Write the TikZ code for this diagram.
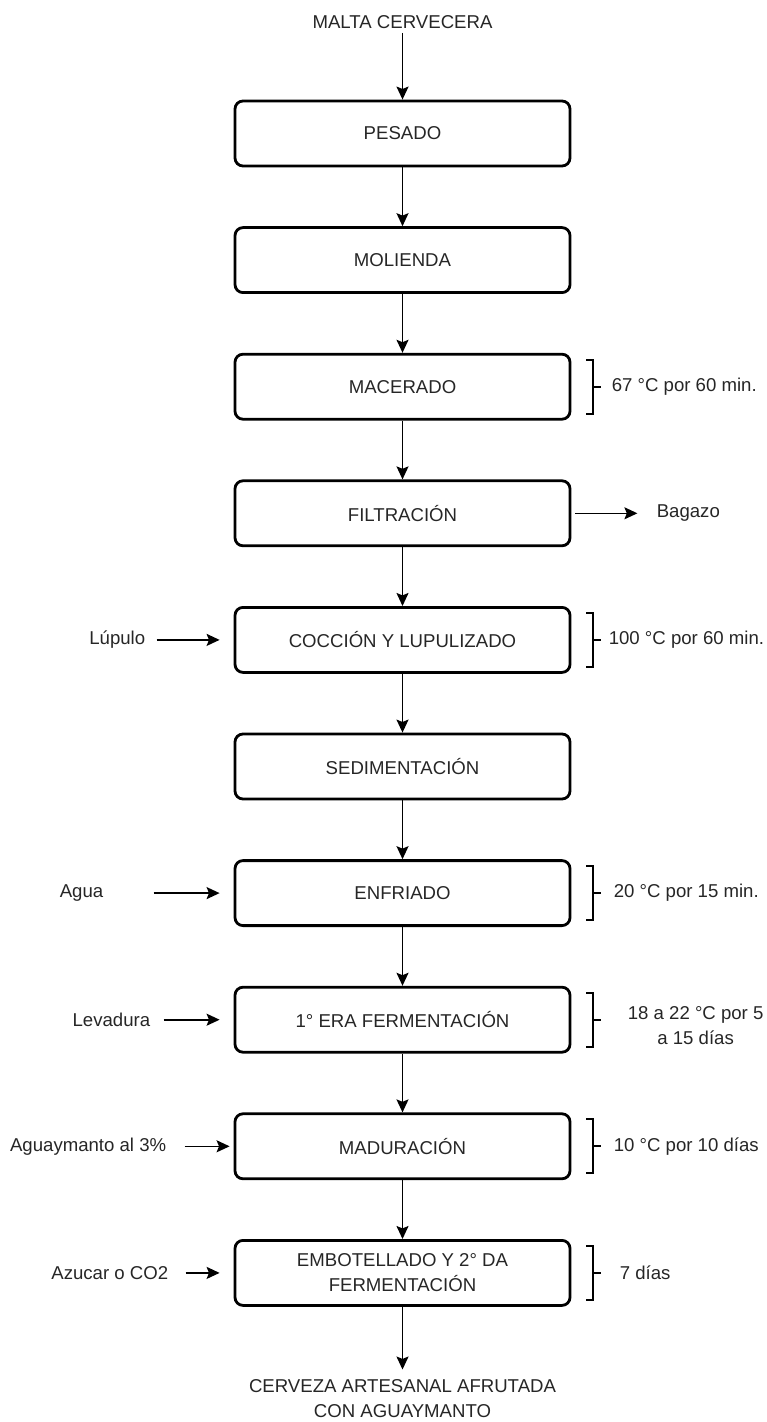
\documentclass[tikz,border=0pt]{standalone}
\usepackage{fontspec}
\setmainfont{Liberation Sans}
\usepackage{xcolor}
\usetikzlibrary{arrows.meta, positioning}
\newcommand{\letra}{\fontsize{9.3}{12.5}\selectfont}
\newcommand{\corchete}[1]{
\draw[line width = 1pt] ([shift={(7.5pt,13.5pt)}]#1.east) -- ++(3.5pt,0) -- ++(0,-27pt) -- ++(-3.5pt,0);
\draw[line width = 1pt] ([xshift = 11pt]#1.east) -- ++(4pt,0);
}

\begin{document}
\begin{tikzpicture}[x = 0.5pt, y = -0.5pt,
    etapa/.style = {draw, rounded corners = 4pt, line width = 1.4pt, minimum width = 167.5pt, minimum height = 32.5pt, align = center, text = black!85, font = \letra},
    texto/.style = {inner sep = 0pt, align = center, text = black!85, font = \letra},
    flecha/.style = {-{Stealth[length = 6.5pt, width = 6pt, inset = 1.2pt]}, line width = 0.8pt}]
    \useasboundingbox (0,0) rectangle (766,1422);
    % Etapas
    \node[etapa] (pesado) at (402.5,133.5){PESADO};
    \node[etapa] (molienda) at (402.5,260.1){MOLIENDA};
    \node[etapa] (macerado) at (402.5,386.7){MACERADO};
    \node[etapa] (filtracion) at (402.5,513.3){FILTRACIÓN};
    \node[etapa] (coccion) at (402.5,639.9){COCCIÓN Y LUPULIZADO};
    \node[etapa] (sedimentacion) at (402.5,766.5){SEDIMENTACIÓN};
    \node[etapa] (enfriado) at (402.5,893.1){ENFRIADO};
    \node[etapa] (fermentacion) at (402.5,1019.7){1° ERA FERMENTACIÓN};
    \node[etapa] (maduracion) at (402.5,1146.3){MADURACIÓN};
    \node[etapa] (embotellado) at (402.5,1272.9){EMBOTELLADO Y 2° DA\\FERMENTACIÓN};
    % Entrada e salida
    \node[texto] (malta) at (402.5,22){MALTA CERVECERA};
    \node[texto] (cerveza) at (402.5,1399){CERVEZA ARTESANAL AFRUTADA\\CON AGUAYMANTO};
    \draw[flecha, shorten <= 2pt] (malta) -- (pesado);
    \draw[flecha] (pesado) -- (molienda);
    \draw[flecha] (molienda) -- (macerado);
    \draw[flecha] (macerado) -- (filtracion);
    \draw[flecha] (filtracion) -- (coccion);
    \draw[flecha] (coccion) -- (sedimentacion);
    \draw[flecha] (sedimentacion) -- (enfriado);
    \draw[flecha] (enfriado) -- (fermentacion);
    \draw[flecha] (fermentacion) -- (maduracion);
    \draw[flecha] (maduracion) -- (embotellado);
    \draw[flecha, shorten >= 5pt] (embotellado) -- (cerveza);
    % Insumos
    \node[texto, left = 44pt of coccion] (lupulo){Lúpulo};
    \node[texto, left = 65pt of enfriado] (agua){Agua};
    \node[texto, left = 41.5pt of fermentacion] (levadura){Levadura};
    \node[texto, left = 33.5pt of maduracion] (aguaymanto){Aguaymanto al 3\%};
    \node[texto, left = 32.5pt of embotellado] (azucar){Azucar o CO2};
    \draw[flecha, shorten <= 5.5pt, shorten >= 7pt] (lupulo) -- (coccion);
    \draw[flecha, shorten <= 25pt, shorten >= 7pt] (agua) -- (enfriado);
    \draw[flecha, shorten <= 6.5pt, shorten >= 7pt] (levadura) -- (fermentacion);
    \draw[flecha, shorten <= 9pt, shorten >= 2pt] (aguaymanto) -- (maduracion);
    \draw[flecha, shorten <= 8.5pt, shorten >= 7pt] (azucar) -- (embotellado);
    % Residuo
    \node[texto, right = 42.5pt of filtracion] (bagazo){Bagazo};
    \draw[flecha, shorten <= 2pt, shorten >= 9.5pt] (filtracion) -- (bagazo);
    % Condiciones
    \corchete{macerado}
    \corchete{coccion}
    \corchete{enfriado}
    \corchete{fermentacion}
    \corchete{maduracion}
    \corchete{embotellado}
    \node[texto, right = 20pt of macerado] (tmacerado){67 °C por 60 min.};
    \node[texto, right = 18.5pt of coccion] (tcoccion){100 °C por 60 min.};
    \node[texto, right = 21pt of enfriado] (tenfriado){20 °C por 15 min.};
    \node[texto, right = 28pt of fermentacion, yshift = -3pt] (tfermentacion){18 a 22 °C por 5\\a 15 días};
    \node[texto, right = 21pt of maduracion] (tmaduracion){10 °C por 10 días};
    \node[texto, right = 24pt of embotellado] (tembotellado){7 días};
\end{tikzpicture}
\end{document}
